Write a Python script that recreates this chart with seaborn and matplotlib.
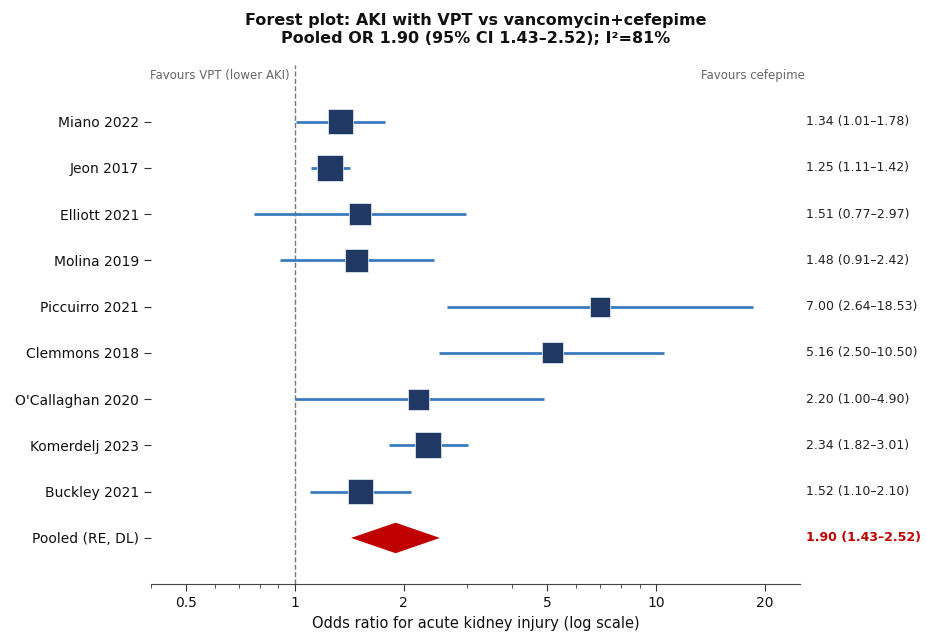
import matplotlib
matplotlib.use("Agg")
import matplotlib.pyplot as plt
import matplotlib.transforms as mtransforms
from matplotlib.ticker import FixedLocator, FixedFormatter, LogLocator, NullFormatter
import seaborn as sns
import numpy as np
import pandas as pd

studies = ["Miano 2022", "Jeon 2017", "Elliott 2021", "Molina 2019", "Piccuirro 2021",
           "Clemmons 2018", "O'Callaghan 2020", "Komerdelj 2023", "Buckley 2021"]
odds_ratio = [1.34, 1.25, 1.51, 1.48, 7.00, 5.16, 2.20, 2.34, 1.52]
ci_low = [1.01, 1.11, 0.77, 0.91, 2.64, 2.50, 1.00, 1.82, 1.10]
ci_high = [1.78, 1.42, 2.97, 2.42, 18.53, 10.50, 4.90, 3.01, 2.10]
weights = [12.8, 13.8, 9.9, 10.8, 8.2, 9.0, 9.0, 13.8, 12.8]

pooled_label = "Pooled (RE, DL)"
pooled_or = 1.90
pooled_low = 1.43
pooled_high = 2.52
i_squared = 81

xticks = [0.5, 1, 2, 5, 10, 20]

df = pd.DataFrame({"study": studies, "or": odds_ratio, "lo": ci_low,
                   "hi": ci_high, "w": weights})
df["row"] = np.arange(len(df))
pooled_row = len(df)

sns.set_style("ticks")
plt.rcParams["font.family"] = ["DejaVu Sans"]
plt.rcParams["text.color"] = "#111111"
plt.rcParams["axes.labelcolor"] = "#111111"
plt.rcParams["xtick.color"] = "#333333"
plt.rcParams["ytick.color"] = "#333333"
plt.rcParams["xtick.labelcolor"] = "#111111"
plt.rcParams["ytick.labelcolor"] = "#111111"

fig = plt.figure(figsize=(9.27, 6.35), dpi=100)
ax = fig.add_axes([0.163, 0.080, 0.700, 0.818])

line_col = "#3a7bc0"
box_col = "#1f3864"
red = "#c00000"

# confidence intervals
ax.hlines(df["row"], df["lo"], df["hi"], color=line_col, lw=2, zorder=2)

# point estimates, square size by weight
sns.scatterplot(data=df, x="or", y="row", size="w",
                sizes=(df["w"].min() * 25.4, df["w"].max() * 25.4),
                marker="s", color=box_col, edgecolor="#dde3ee", linewidth=0.6,
                legend=False, ax=ax, zorder=3)

# pooled diamond
ax.fill([pooled_low, pooled_or, pooled_high, pooled_or],
        [pooled_row, pooled_row - 0.33, pooled_row, pooled_row + 0.33],
        color=red, zorder=3, lw=0)

ax.axvline(1, color="#777777", ls="--", lw=1, zorder=1)

ax.set_xscale("log")
ax.set_xlim(0.4, 25)
ax.set_ylim(pooled_row + 1, -1.23)
ax.xaxis.set_major_locator(FixedLocator(xticks))
ax.xaxis.set_major_formatter(FixedFormatter([f"{t:g}" for t in xticks]))
ax.xaxis.set_minor_locator(LogLocator(base=10, subs=np.arange(2, 10) * 0.1, numticks=20))
ax.xaxis.set_minor_formatter(NullFormatter())
ax.tick_params(axis="x", which="major", labelsize=10, length=5)
ax.tick_params(axis="x", which="minor", length=3)

ax.set_yticks(list(df["row"]) + [pooled_row])
ax.set_yticklabels(studies + [pooled_label], fontsize=10)
ax.tick_params(axis="y", length=5)

sns.despine(ax=ax, left=True)
ax.spines["bottom"].set_color("#444444")

ax.set_xlabel("Odds ratio for acute kidney injury (log scale)", fontsize=10.5)
ax.set_ylabel("")
ax.set_title("Forest plot: AKI with VPT vs vancomycin+cefepime\n"
             f"Pooled OR {pooled_or:.2f} (95% CI {pooled_low:.2f}\u2013{pooled_high:.2f}); I\u00b2={i_squared}%",
             fontsize=11.5, fontweight="bold", pad=16)

# right-hand estimate column
trans = mtransforms.blended_transform_factory(ax.transAxes, ax.transData)
for _, r in df.iterrows():
    ax.text(1.01, r["row"], f"{r['or']:.2f} ({r['lo']:.2f}\u2013{r['hi']:.2f})",
            transform=trans, va="center", ha="left", fontsize=9, color="#222222")
ax.text(1.01, pooled_row, f"{pooled_or:.2f} ({pooled_low:.2f}\u2013{pooled_high:.2f})",
        transform=trans, va="center", ha="left", fontsize=9, color=red, fontweight="bold")

# direction labels
ax.text(0.97, -1.0, "Favours VPT (lower AKI)", ha="right", va="center", fontsize=8.5, color="#666666")
ax.text(1.007, -1.0, "Favours cefepime", transform=trans, ha="right", va="center",
        fontsize=8.5, color="#666666")

fig.savefig("out.png", dpi=100)
